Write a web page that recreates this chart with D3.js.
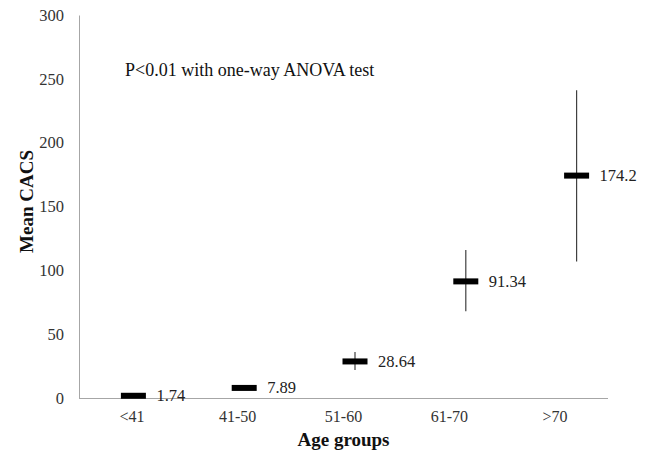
<!DOCTYPE html>
<html><head><meta charset="utf-8">
<script src="https://cdn.jsdelivr.net/npm/d3@7"></script>
<style>body{margin:0;background:#fff}svg{display:block}svg text{font-family:"Liberation Serif","Times New Roman",Times,serif !important}</style>
</head><body>
<svg id="c" width="648" height="457"></svg>
<script>
const categories = ["<41", "41-50", "51-60", "61-70", ">70"];
const means = [1.74, 7.89, 28.64, 91.34, 174.2];
const errLow = [1.74, 7.89, 22, 68, 107];
const errHigh = [1.74, 7.89, 36, 116, 241];
const valueLabels = ["1.74", "7.89", "28.64", "91.34", "174.2"];
const yTicks = [0, 50, 100, 150, 200, 250, 300];

const svg = d3.select("#c");
const L = 79, R = 608, T = 15, B = 398;
const x = d3.scaleBand().domain(categories).range([L, R]);
// series layer is laid out slightly wider than the axis labels in the original
const xs = d3.scaleBand().domain(categories).range([78, 632]);
const y = d3.scaleLinear().domain([0, 300]).range([B, T]);
const cx = d => xs(d) + xs.bandwidth() / 2;

// axes
const ya = svg.append("g").attr("transform", `translate(${L},0)`)
  .call(d3.axisLeft(y).tickValues(yTicks).tickSize(0).tickPadding(15));
ya.attr("font-family", null);
ya.select(".domain").attr("stroke", "#a6a6a6");
ya.selectAll("text").attr("font-size", 16.5).attr("fill", "#333");

const xa = svg.append("g").attr("transform", `translate(0,${B})`)
  .call(d3.axisBottom(x).tickSize(0).tickPadding(13));
xa.attr("font-family", null);
xa.select(".domain").attr("stroke", "#a6a6a6").attr("d", `M${L},0.5H${R}`);
xa.selectAll("text").attr("font-size", 16).attr("fill", "#333");

// error bars
svg.append("g").selectAll("line").data(categories).join("line")
  .attr("x1", cx).attr("x2", cx)
  .attr("y1", (d, i) => y(errHigh[i])).attr("y2", (d, i) => y(errLow[i]))
  .attr("stroke", "#404040").attr("stroke-width", 1.2);

// markers
svg.append("g").selectAll("rect").data(categories).join("rect")
  .attr("x", d => cx(d) - 12.5)
  .attr("y", (d, i) => y(means[i]) - 3)
  .attr("width", 25).attr("height", 6).attr("fill", "#000");

// value labels
svg.append("g").selectAll("text").data(categories).join("text")
  .attr("x", d => cx(d) + 23)
  .attr("y", (d, i) => y(means[i]) + 5.5)
  .attr("font-size", 16.5).attr("fill", "#222")
  .text((d, i) => valueLabels[i]);

// annotation
svg.append("text").attr("x", 125).attr("y", 76).attr("font-size", 18).attr("fill", "#111")
  .text("P<0.01 with one-way ANOVA test");

// axis titles
svg.append("text").attr("x", (L + R) / 2).attr("y", 446).attr("text-anchor", "middle")
  .attr("font-size", 19).attr("font-weight", "bold").attr("fill", "#111").text("Age groups");
svg.append("text").attr("transform", `translate(33,${(T + B) / 2 - 5}) rotate(-90)`)
  .attr("text-anchor", "middle").attr("font-size", 19).attr("font-weight", "bold").attr("fill", "#111").text("Mean CACS");
</script>
</body></html>
